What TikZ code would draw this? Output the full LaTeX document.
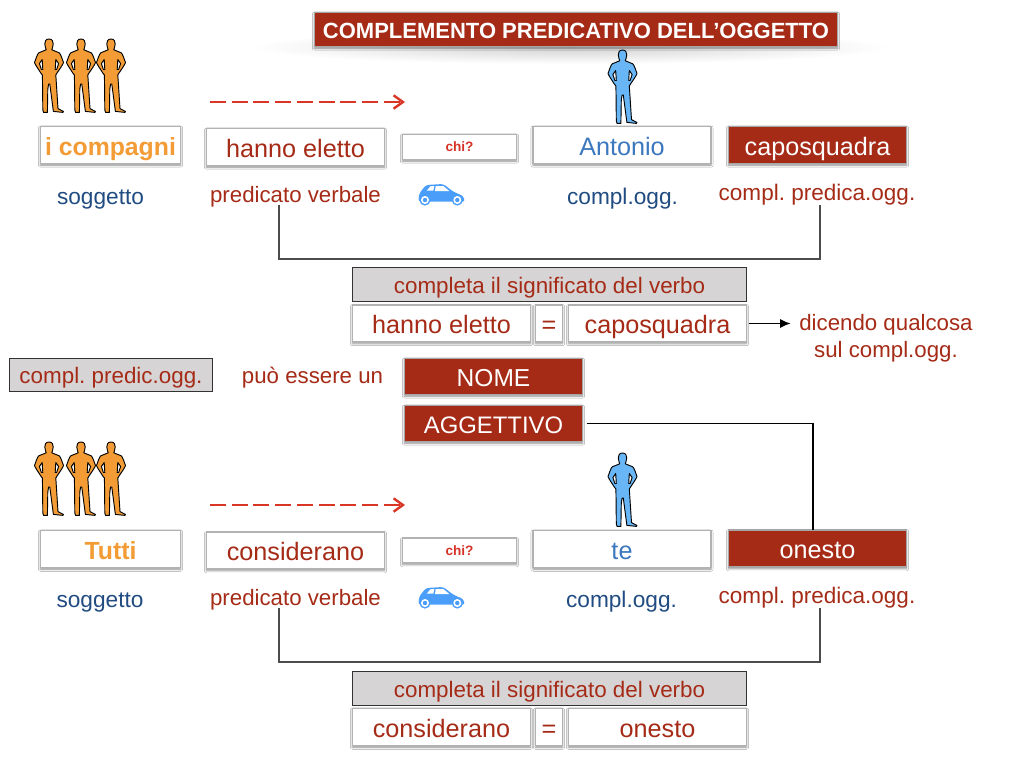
\documentclass[tikz,border=0pt]{standalone}
\usepackage{fontspec}
\setmainfont{Liberation Sans}
\frenchspacing
\usetikzlibrary{arrows.meta,shadows.blur}
\definecolor{rosso}{RGB}{165,43,23}
\definecolor{rossochi}{RGB}{215,50,40}
\definecolor{arancio}{RGB}{243,156,53}
\definecolor{azzurro}{RGB}{60,120,190}
\definecolor{blu}{RGB}{33,76,130}
\definecolor{celeste}{RGB}{104,182,245}
\definecolor{blumacchina}{RGB}{74,158,250}
\definecolor{grigio}{RGB}{214,212,212}
\tikzset{
  boxw/.style={minimum width=#1*0.75pt},
  boxh/.style={minimum height=#1*0.75pt},
  ombra/.style={blur shadow={shadow xshift=0pt,shadow yshift=-1.2pt,shadow blur radius=1.6pt,shadow opacity=45}},
  bianco/.style={draw=black!30,line width=0.9pt,fill=white,ombra,inner sep=0pt,outer sep=0pt,text=rosso,
    font=\fontsize{18.9}{22}\selectfont,text height=16pt,text depth=0.4pt,boxw=178,boxh=37},
  pieno/.style={bianco,draw=black!35,fill=rosso,text=white},
  grigiobox/.style={draw=black!80,line width=0.7pt,fill=grigio,inner sep=0pt,outer sep=0pt,text=rosso,
    font=\fontsize{16.8}{20}\selectfont,text height=13.6pt,text depth=0.6pt},
  etichetta/.style={inner sep=0pt,outer sep=0pt,text=rosso,font=\fontsize{16.7}{20}\selectfont,
    text height=13.2pt,text depth=2.6pt},
  linea/.style={draw=black!70,line width=1.2pt},
  nero/.style={draw=black,line width=1.3pt},
  tratteggio/.style={draw=rossochi!95!orange,line width=2pt,dash pattern=on 12pt off 4.3pt,
    -{Straight Barb[length=7pt,width=10pt,line width=1.8pt]}},
  person/.pic={
    \path[pic actions,line width=0.7pt,even odd rule,line join=round]
      (0,0) .. controls (-3.2,0) and (-4.4,2.4) .. (-4.2,5)
      .. controls (-4.1,7.5) and (-3.2,9) .. (-2.8,10.8)
      -- (-10.2,13.8) .. controls (-11.8,15) and (-13.5,21) .. (-14.5,23.6)
      .. controls (-13,27) and (-10,31) .. (-8.2,34)
      -- (-6.6,36) -- (-6.4,50) -- (-6.2,71) -- (-5.4,73.4) -- (-1.6,73.4) -- (-1.2,50) -- (-0.4,45)
      -- (0.8,45) -- (3.8,68) -- (4.4,72.4) -- (14,73.4) -- (14.4,72.4) -- (9,69.6)
      -- (7.4,45) -- (6.8,36) -- (8,34)
      .. controls (10,31) and (13,27) .. (14.5,23.6)
      .. controls (13.5,21) and (11.8,15) .. (10.2,13.8)
      -- (2.8,10.8) .. controls (3.2,9) and (4.1,7.5) .. (4.2,5)
      .. controls (4.4,2.4) and (3.2,0) .. (0,0) -- cycle
      (-6.8,20.5) -- (-9.6,24.5) -- (-7.6,30.5) -- (-6.2,30.5) -- cycle
      (6.8,20.5) -- (9.6,24.5) -- (7.6,30.5) -- (6.2,30.5) -- cycle;
  },
  macchina/.pic={
    \fill[blumacchina,rounded corners=2pt] (-23.7,6.7) -- (-22.7,-1.7) -- (-16,-10) -- (1.3,-11)
      -- (11.3,-3.3) -- (21.3,1) -- (23,6.7) -- cycle;
    \fill[white] (-15.3,-4.3) -- (-11.3,-9) -- (-7.7,-9) -- (-8.7,-4.3) -- cycle;
    \fill[white] (-6.3,-9) -- (1.3,-9) -- (7.3,-4) -- (-7,-4) -- cycle;
    \foreach \r in {-17,15.3} {
      \fill[blumacchina] (\r,5) circle (5.6);
      \fill[white] (\r,5) circle (4);
      \fill[blumacchina] (\r,5) circle (2.2);
    }
  }
}
\begin{document}
\begin{tikzpicture}[x=0.75pt,y=-0.75pt]
  \useasboundingbox (0,0) rectangle (1024,768);
  \fill[white] (0,0) rectangle (1024,768);

  % titolo
  \shade[inner color=black!18,outer color=white] (570,47) ellipse (320 and 17);
  \node[pieno,boxw=523,boxh=34,font=\fontsize{16.5}{20}\selectfont\bfseries,text height=13pt,text depth=0pt] (titolo) at (576,29.5) {COMPLEMENTO PREDICATIVO DELL’OGGETTO};

  % prima frase
  \foreach \x in {49,81,111} \pic[fill=arancio,draw=black] at (\x,39) {person};
  \pic[fill=celeste,draw=black] at (622.5,50) {person};
  \coordinate (frA) at (210,102);
  \coordinate (frB) at (405,102);
  \draw[tratteggio] (frA) -- (frB);

  \node[bianco,boxw=140,text=arancio,font=\fontsize{18.6}{22}\selectfont\bfseries] (compagni) at (110.5,145) {i compagni};
  \node[bianco] (hanno) at (295.5,147) {hanno eletto};
  \node[bianco,boxw=114,boxh=25,font=\fontsize{10.2}{12}\selectfont\bfseries,text=rossochi,text height=7.4pt,text depth=0.2pt] (chiA) at (459.5,147) {chi?};
  \node[bianco,text=azzurro] (antonio) at (622,145) {Antonio};
  \node[pieno] (capo) at (817.5,145) {caposquadra};

  \node[etichetta,text=blu,font=\fontsize{17}{20}\selectfont] (soggA) at (100.5,197) {soggetto};
  \node[etichetta] (predA) at (295.5,195) {predicato verbale};
  \pic at (442,195) {macchina};
  \node[etichetta,text=blu,font=\fontsize{17}{20}\selectfont] (oggA) at (622.5,197) {compl.ogg.};
  \node[etichetta,font=\fontsize{16.9}{20}\selectfont] (predogA) at (817,193.5) {compl. predica.ogg.};

  \coordinate (brA) at (279,205);
  \coordinate (brB) at (820,205);
  \coordinate (brM) at (550,259);
  \draw[linea] (brA) |- (brM) -| (brB);

  \node[grigiobox,boxw=394,boxh=34] (signA) at (549.5,284.5) {completa il significato del verbo};
  \node[bianco] (verboA) at (441.5,323.5) {hanno eletto};
  \node[bianco,boxw=27] (ugualeA) at (549,323.5) {=};
  \node[bianco] (capoB) at (657.5,323.5) {caposquadra};
  \node[etichetta] (dicendo) at (886,323) {dicendo qualcosa};
  \node[etichetta] (sul) at (886,350) {sul compl.ogg.};
  \draw[nero,-{Latex[length=8pt,width=7pt]},shorten <=2pt,shorten >=6.5pt] (capoB.east) -- (dicendo.west |- capoB.east);

  % complemento predicativo
  \node[grigiobox,boxw=203,boxh=33] (predic) at (111,375) {compl. predic.ogg.};
  \node[etichetta] (essere) at (312.5,376) {può essere un};
  \node[pieno,boxh=36,font=\fontsize{18.4}{22}\selectfont] (nome) at (493.5,376.5) {NOME};
  \node[pieno,boxh=36,font=\fontsize{17.9}{22}\selectfont] (agg) at (493.5,423.5) {AGGETTIVO};

  % seconda frase
  \foreach \x in {49,81,111} \pic[fill=arancio,draw=black] at (\x,442) {person};
  \pic[fill=celeste,draw=black] at (622.5,453) {person};
  \coordinate (frC) at (210,505);
  \coordinate (frD) at (405,505);
  \draw[tratteggio] (frC) -- (frD);

  \node[bianco,boxw=140,text=arancio,font=\fontsize{18.6}{22}\selectfont\bfseries] (tutti) at (110.5,549) {Tutti};
  \node[bianco] (consid) at (295.5,550.5) {considerano};
  \node[bianco,boxw=114,boxh=25,font=\fontsize{10.2}{12}\selectfont\bfseries,text=rossochi,text height=7.4pt,text depth=0.2pt] (chiB) at (459.5,550.5) {chi?};
  \node[bianco,text=azzurro] (te) at (622,549) {te};
  \node[pieno] (onesto) at (817.5,548.5) {onesto};

  \node[etichetta,text=blu,font=\fontsize{17}{20}\selectfont] (soggB) at (100,600) {soggetto};
  \node[etichetta] (predB) at (295.5,598) {predicato verbale};
  \pic at (442,598) {macchina};
  \node[etichetta,text=blu,font=\fontsize{17}{20}\selectfont] (oggB) at (621.5,600) {compl.ogg.};
  \node[etichetta,font=\fontsize{16.9}{20}\selectfont] (predogB) at (817,596.5) {compl. predica.ogg.};

  \coordinate (brC) at (279,608);
  \coordinate (brD) at (820,608);
  \coordinate (brN) at (550,662);
  \draw[linea] (brC) |- (brN) -| (brD);

  \node[grigiobox,boxw=394,boxh=34] (signB) at (549.5,688.5) {completa il significato del verbo};
  \node[bianco] (verboB) at (441.5,727) {considerano};
  \node[bianco,boxw=27] (ugualeB) at (549,727) {=};
  \node[bianco] (onestoB) at (657.5,727) {onesto};

  \draw[nero,shorten <=3pt] (agg.east) -| ([xshift=-3.4pt]onesto.north);
\end{tikzpicture}
\end{document}
